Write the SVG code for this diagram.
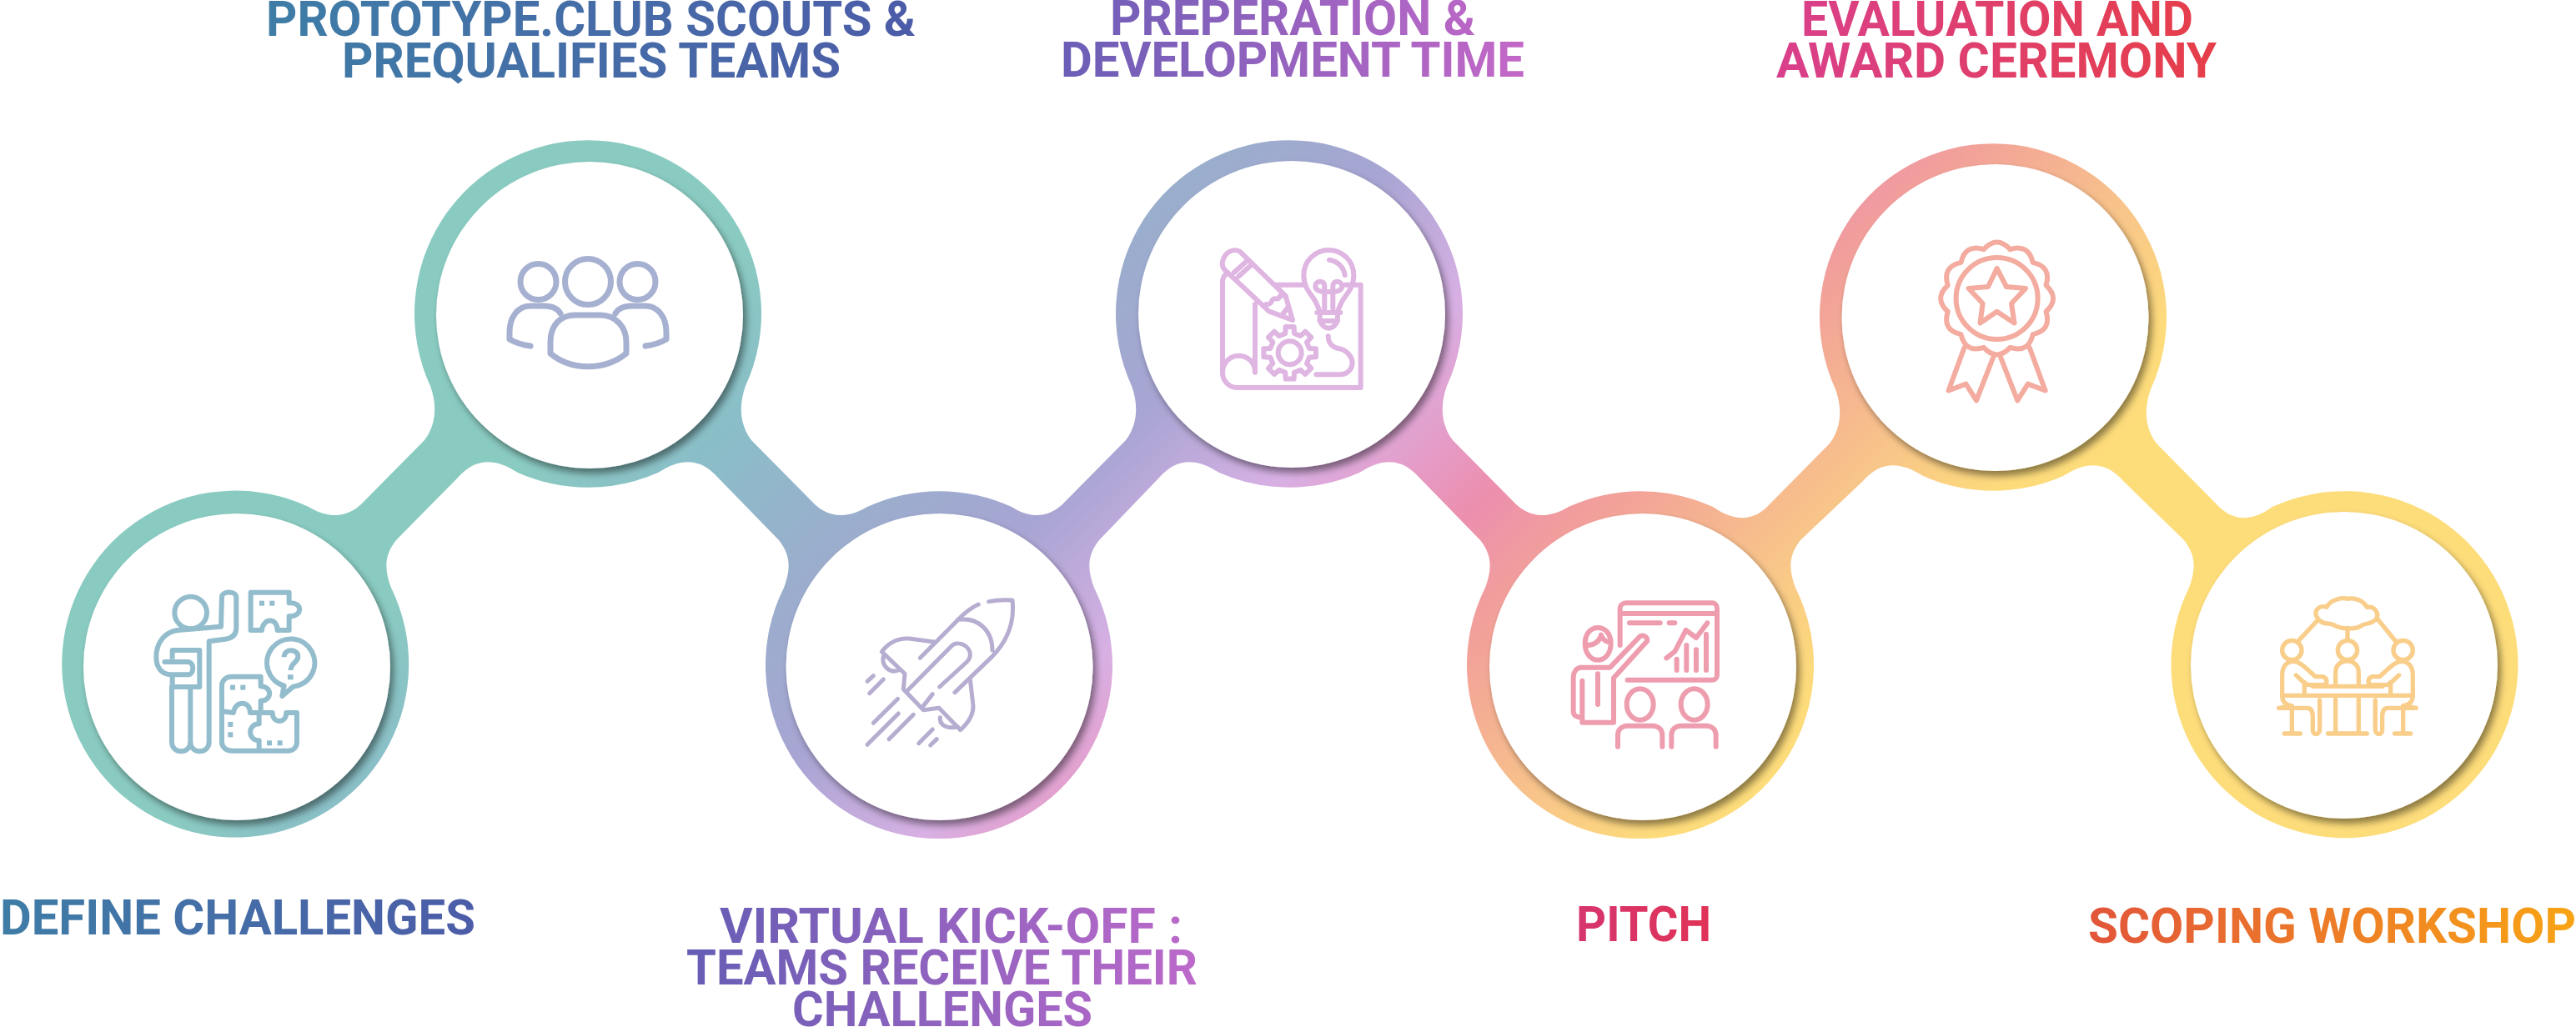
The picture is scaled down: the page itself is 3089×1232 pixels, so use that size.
<svg xmlns="http://www.w3.org/2000/svg" width="3089" height="1232" viewBox="0 0 3089 1232">
<style>
.disc{fill:#fff;filter:url(#sh)}
.ic{fill:none;stroke-linecap:round;stroke-linejoin:round}
.ic .d{stroke:none}
text{font-family:Roboto,"Liberation Sans",sans-serif;font-weight:700;font-size:60px}
</style>
<defs>
<filter id="sh" x="-15%" y="-15%" width="130%" height="130%"><feDropShadow dx="4" dy="6" stdDeviation="4.5" flood-color="#000" flood-opacity="0.45"/></filter>
<linearGradient id="rib" gradientUnits="userSpaceOnUse" x1="590" y1="590" x2="1540" y2="1540">
<stop offset="0" stop-color="#8ACBC1"/><stop offset=".11" stop-color="#8ABEC8"/><stop offset=".25" stop-color="#9BADCD"/><stop offset=".36" stop-color="#A7A5D3"/><stop offset=".49" stop-color="#D8B0E4"/><stop offset=".565" stop-color="#E59CC8"/><stop offset=".63" stop-color="#EC8FAE"/><stop offset=".715" stop-color="#F2A199"/><stop offset=".85" stop-color="#F8C48A"/><stop offset=".95" stop-color="#FDDB7B"/><stop offset="1" stop-color="#FDDC7A"/>
</linearGradient>
<linearGradient id="t1" gradientUnits="userSpaceOnUse" x1="0" y1="0" x2="570" y2="0"><stop offset="0" stop-color="#3E7DA6"/><stop offset="1" stop-color="#4C5CA8"/></linearGradient>
<linearGradient id="t2" gradientUnits="userSpaceOnUse" x1="319" y1="0" x2="1098" y2="0"><stop offset="0" stop-color="#3E7DA6"/><stop offset="1" stop-color="#4C5CA8"/></linearGradient>
<linearGradient id="t3" gradientUnits="userSpaceOnUse" x1="823" y1="0" x2="1436" y2="0"><stop offset="0" stop-color="#655DB4"/><stop offset="1" stop-color="#BC69CA"/></linearGradient>
<linearGradient id="t4" gradientUnits="userSpaceOnUse" x1="1272" y1="0" x2="1828" y2="0"><stop offset="0" stop-color="#6A5EB6"/><stop offset="1" stop-color="#C468C8"/></linearGradient>
<linearGradient id="t5" gradientUnits="userSpaceOnUse" x1="1890" y1="0" x2="2052" y2="0"><stop offset="0" stop-color="#D6356F"/><stop offset="1" stop-color="#E03356"/></linearGradient>
<linearGradient id="t6" gradientUnits="userSpaceOnUse" x1="2130" y1="0" x2="2658" y2="0"><stop offset="0" stop-color="#D9408C"/><stop offset="1" stop-color="#E63E48"/></linearGradient>
<linearGradient id="t7" gradientUnits="userSpaceOnUse" x1="2504" y1="0" x2="3089" y2="0"><stop offset="0" stop-color="#E2553A"/><stop offset="1" stop-color="#F8A415"/></linearGradient>
</defs>
<rect width="3089" height="1232" fill="#fff"/>
<g id="connectors">
<path fill="url(#rib)" d="M370 608C402 627 422 615 433 605L509 528C525 507 523 482 516 463A208 208 0 1 1 894 463C887 482 885 507 901 528L977 605C988 615 1008 627 1040 608A208 208 0 0 1 1213 608C1243 627 1263 615 1274 605L1350 528C1366 507 1364 482 1357 463A208 208 0 1 1 1735 463C1728 482 1726 507 1742 528L1818 605C1829 615 1849 627 1881 608A208 208 0 0 1 2054 608C2087 631 2107 619 2118 609L2194 532C2210 511 2208 486 2201 467A208 208 0 1 1 2579 467C2572 486 2570 511 2586 532L2662 609C2673 619 2693 631 2725 608A208 208 0 1 1 2625 705C2632 686 2635 668 2619 648L2546 577C2525 553 2502 553 2474 571A208 208 0 0 1 2306 571C2278 553 2255 553 2234 577L2159 648C2143 668 2146 686 2153 705A208 208 0 1 1 1781 705C1788 686 1791 668 1775 648L1702 573C1681 549 1658 549 1630 567A208 208 0 0 1 1462 567C1434 549 1411 549 1390 573L1318 648C1302 668 1305 686 1312 705A208 208 0 1 1 940 705C947 686 950 668 934 648L861 573C840 549 817 549 789 567A208 208 0 0 1 621 567C593 549 570 549 549 573L475 648C459 668 462 686 469 705A208 208 0 1 1 370 608Z"/>
</g>
<g id="node-define-challenges">
<circle class="disc" cx="284" cy="800" r="184"/>
<g class="ic" transform="translate(150 680) scale(.3333)" stroke="#93BDCD" stroke-width="18">
<circle cx="236" cy="165" r="58"/>
<path d="M190 228C140 235 112 275 112 325C112 360 130 388 165 388L225 388C250 388 250 342 225 342L142 342"/>
<path d="M170 332L170 300L268 300L268 432L170 432L170 388" stroke-linecap="butt"/>
<path d="M190 228L345 215L348 110C348 85 400 85 400 110L400 220C400 250 380 258 360 260L302 268L302 630C302 675 235 675 235 630L235 432M235 630C235 675 168 675 168 630L168 432"/>
<path d="M452 92L590 92L590 130C640 125 640 180 590 178L590 228L548 228C548 180 495 185 492 228L452 228Z"/>
<path d="M572 428A86 86 0 1 1 605 431L565 465Z"/>
<path d="M572 325C572 290 625 295 622 325C620 345 596 345 596 372" stroke-linecap="butt"/>
<path d="M348 520L348 430C348 410 360 395 385 395L488 395L488 430C530 430 530 482 488 482L488 525L450 525C450 480 395 480 390 525Z"/>
<path d="M348 520L348 630C348 650 365 662 385 662L585 662C605 662 618 650 618 630L618 525L580 525C580 565 530 565 530 525L488 525M482 662L482 625C440 625 440 565 482 565L482 525"/>
<g class="d" fill="#93BDCD"><rect x="483" y="122" width="18" height="18"/><rect x="520" y="122" width="18" height="18"/><rect x="585" y="388" width="20" height="18"/><rect x="378" y="425" width="18" height="18"/><rect x="415" y="425" width="18" height="18"/><rect x="370" y="558" width="18" height="18"/><rect x="370" y="595" width="18" height="18"/><rect x="510" y="625" width="18" height="18"/><rect x="548" y="625" width="18" height="18"/></g>
</g>
<text fill="url(#t1)" x="0" y="1121" textLength="570" lengthAdjust="spacingAndGlyphs">DEFINE CHALLENGES</text>
</g>
<g id="node-scouts">
<circle class="disc" cx="707" cy="378" r="184"/>
<g class="ic" stroke="#A6B0D0" stroke-width="7">
<circle cx="705" cy="338" r="27.5"/><circle cx="645.5" cy="338" r="21.5"/><circle cx="764.5" cy="338" r="21.5"/>
<path d="M660 424L660 410C660 390 672 378 690 378L720 378C738 378 751 392 751 410L751 424C725 445 685 445 660 424Z"/>
<path d="M672 376C668 369 660 367 652 367L636 367C620 367 611 382 611 398L611 407C618 411 628 414 636 415"/>
<path d="M738 376C742 369 750 367 758 367L774 367C790 367 799 382 799 398L799 407C792 411 782 414 774 415"/>
</g>
<text fill="url(#t2)" x="319" y="43" textLength="779" lengthAdjust="spacingAndGlyphs">PROTOTYPE.CLUB SCOUTS &amp;</text>
<text fill="url(#t2)" x="410" y="93" textLength="598" lengthAdjust="spacingAndGlyphs">PREQUALIFIES TEAMS</text>
</g>
<g id="node-kickoff">
<circle class="disc" cx="1126.5" cy="800" r="184"/>
<g class="ic" transform="translate(1020 700) scale(.3333)" stroke="#B7ADD0" stroke-width="15">
<path d="M497 65C530 58 555 58 582 60C590 130 570 200 510 262L375 392M460 75C430 88 410 105 385 132L250 268M385 130C460 120 510 170 510 240"/>
<path d="M205 385L360 228C385 200 430 225 430 255C430 270 425 275 415 285L320 372"/>
<path d="M300 210L210 198C170 195 135 215 112 245L195 325L190 380L262 455L318 448L395 527C430 495 445 460 440 430L430 345"/>
<path d="M118 262C110 295 140 325 172 312M322 482C318 510 350 525 385 515M262 440L295 398"/>
<path d="M60 352L82 332M68 395L118 345M82 502L170 415M60 580L172 468M138 560L226 472M245 575L295 525M287 582L310 560"/>
</g>
<text fill="url(#t3)" x="863" y="1131" textLength="555" lengthAdjust="spacingAndGlyphs">VIRTUAL KICK-OFF :</text>
<text fill="url(#t3)" x="823" y="1181" textLength="613" lengthAdjust="spacingAndGlyphs">TEAMS RECEIVE THEIR</text>
<text fill="url(#t3)" x="950" y="1231" textLength="360" lengthAdjust="spacingAndGlyphs">CHALLENGES</text>
</g>
<g id="node-preparation">
<circle class="disc" cx="1549" cy="377" r="184"/>
<g class="ic" transform="translate(1440 280) scale(.3333)" stroke="#DFB5E2" stroke-width="18">
<path d="M85 130C60 100 100 45 140 65L305 225L330 312L245 280ZM120 140L170 95M135 155L185 110M235 255C260 260 250 230 270 235C290 240 275 215 300 225M295 290L310 270"/>
<path d="M265 185L375 185M520 185L575 185L575 555L130 555C100 555 78 530 78 500L78 175C78 160 85 150 95 142M78 500C78 465 105 440 135 440C165 440 195 460 195 500L195 255"/>
<path d="M430 285L415 250C400 220 370 200 370 150C370 100 410 60 460 60C510 60 550 100 550 150C550 200 520 220 505 250L490 285M418 285L502 285M428 285L428 315C445 350 475 350 492 315L492 285M430 315L490 315"/>
<path d="M445 270L445 190C445 165 410 170 412 190C412 205 430 210 445 210L475 210C490 210 508 205 508 190C508 170 475 165 475 190L475 270M462 95C495 100 515 125 518 150"/>
<g transform="translate(320 430)"><path d="M70.2 -16.2L93.8 -14.9L93.8 14.9L70.2 16.2L61.1 38.2L76.9 55.8L55.8 76.9L38.2 61.1L16.2 70.2L14.9 93.8L-14.9 93.8L-16.2 70.2L-38.2 61.1L-55.8 76.9L-76.9 55.8L-61.1 38.2L-70.2 16.2L-93.8 14.9L-93.8 -14.9L-70.2 -16.2L-61.1 -38.2L-76.9 -55.8L-55.8 -76.9L-38.2 -61.1L-16.2 -70.2L-14.9 -93.8L14.9 -93.8L16.2 -70.2L38.2 -61.1L55.8 -76.9L76.9 -55.8L61.1 -38.2Z"/><circle r="42"/></g>
<path d="M458 370C458 400 480 412 500 415C525 420 545 445 545 465C545 490 525 508 500 508L415 508"/>
</g>
<text fill="url(#t4)" x="1331" y="42" textLength="438" lengthAdjust="spacingAndGlyphs">PREPERATION &amp;</text>
<text fill="url(#t4)" x="1272" y="92" textLength="556" lengthAdjust="spacingAndGlyphs">DEVELOPMENT TIME</text>
</g>
<g id="node-pitch">
<circle class="disc" cx="1970" cy="800" r="184"/>
<g class="ic" transform="translate(1860 700) scale(.3333)" stroke="#EE9DAF" stroke-width="18">
<path d="M248 222L248 90C248 78 258 70 270 70L580 70C590 70 597 78 597 90L597 330C597 340 590 347 580 347L275 347M248 108L597 108M282 142L392 142M425 142L445 142M415 268L445 245L485 168L522 195L562 142M452 272L452 312M487 222L487 312M522 238L522 312M558 182L558 312"/>
<path d="M122 215C122 140 215 140 215 215C215 295 122 295 122 215ZM125 222C160 222 175 205 180 185C185 200 195 210 212 212"/>
<path d="M112 350L112 500L225 500L225 340L345 208C350 190 325 180 315 195L212 302L110 302C90 302 80 320 80 340L80 460C80 475 92 482 108 482M168 325L168 435"/>
<ellipse cx="320" cy="435" rx="48" ry="56"/><ellipse cx="515" cy="435" rx="48" ry="56"/>
<path d="M240 587L240 545C240 525 255 512 275 512L365 512C385 512 400 525 400 545L400 587M433 587L433 545C433 525 448 512 468 512L558 512C578 512 593 525 593 545L593 587"/>
</g>
<text fill="url(#t5)" x="1890" y="1129" textLength="162" lengthAdjust="spacingAndGlyphs">PITCH</text>
</g>
<g id="node-evaluation">
<circle class="disc" cx="2392.5" cy="381" r="184"/>
<g class="ic" stroke="#F3AC9F" stroke-width="6">
<g transform="translate(2394.6 358)">
<path d="M-15.8 -58.9Q0 -76 15.8 -58.9Q38 -65.8 43.1 -43.1Q65.8 -38 58.9 -15.8Q76 0 58.9 15.8Q65.8 38 43.1 43.1Q38 65.8 15.8 58.9Q0 76 -15.8 58.9Q-38 65.8 -43.1 43.1Q-65.8 38 -58.9 15.8Q-76 0 -58.9 -15.8Q-65.8 -38 -43.1 -43.1Q-38 -65.8 -15.8 -58.9Z"/>
<circle r="49"/>
</g>
<path d="M2394.6 322L2406 344L2429 346L2412 364L2415.5 387.5L2394.6 373.7L2374.5 387.5L2377.6 364L2360.6 346L2384 344Z"/>
<path d="M2355.5 417L2336.6 468.5L2357.4 460.6L2370 480.4L2390 429M2433.7 417L2452.6 468.5L2431.8 460.6L2419.2 480.4L2399.2 429"/>
</g>
<text fill="url(#t6)" x="2160" y="43" textLength="470" lengthAdjust="spacingAndGlyphs">EVALUATION AND</text>
<text fill="url(#t6)" x="2130" y="93" textLength="528" lengthAdjust="spacingAndGlyphs">AWARD CEREMONY</text>
</g>
<g id="node-scoping">
<circle class="disc" cx="2811" cy="798" r="184"/>
<g class="ic" transform="translate(2710 700) scale(.3333)" stroke="#F8CE8A" stroke-width="16">
<path d="M210 128C185 100 215 75 240 85C255 55 300 50 315 55C340 50 370 60 385 85C415 80 430 110 418 128C400 150 375 140 360 155C340 165 290 165 268 150C250 140 225 150 210 128Z"/>
<path d="M205 135L135 210M425 130L490 210M315 160L315 205"/>
<circle cx="115" cy="240" r="35"/><circle cx="315" cy="240" r="35"/><circle cx="515" cy="240" r="35"/>
<path d="M272 365L272 320C272 265 355 265 355 320L355 365M190 370L440 370M80 403L550 403M272 403L272 540M355 403L355 540M245 540L385 540"/>
<path d="M80 403L80 330C80 295 100 280 120 280C145 280 165 305 200 335L225 335C245 340 245 365 225 365L175 365C165 365 150 350 130 330M160 355L160 395M80 403C80 430 100 440 115 440L68 448L170 448C190 448 190 470 190 480L190 525C190 550 215 545 215 525L215 420M115 450L115 540M88 540L145 540"/>
<path d="M550 403L550 330C550 295 530 280 510 280C485 280 465 305 430 335L405 335C385 340 385 365 405 365L455 365C465 365 480 350 500 330M470 355L470 395M550 403C550 430 530 440 515 440L562 448L460 448C440 448 440 470 440 480L440 525C440 550 415 545 415 525L415 420M515 450L515 540M542 540L485 540"/>
</g>
<text fill="url(#t7)" x="2504" y="1131" textLength="585" lengthAdjust="spacingAndGlyphs">SCOPING WORKSHOP</text>
</g>
</svg>
